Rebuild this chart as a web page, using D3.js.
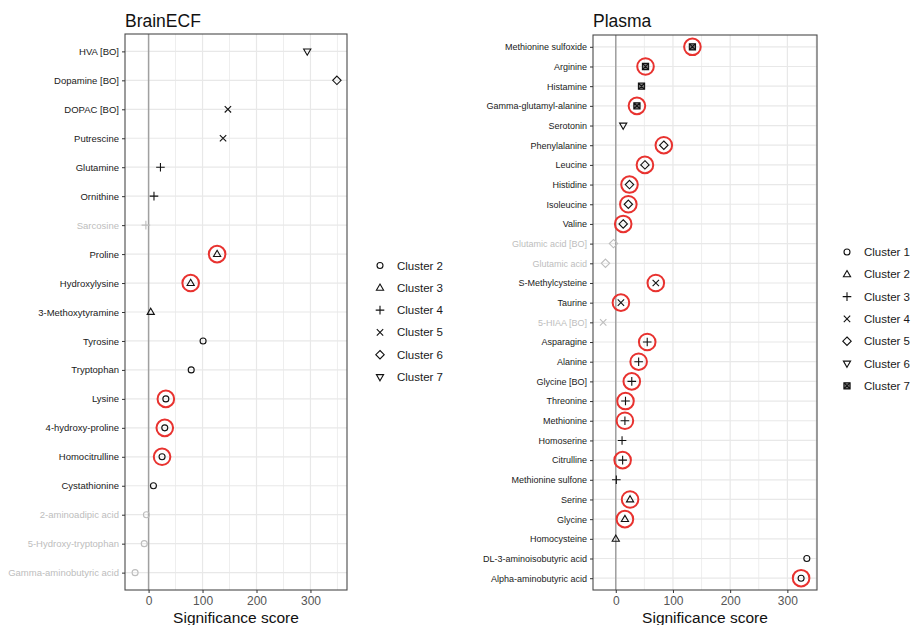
<!DOCTYPE html>
<html>
<head>
<meta charset="utf-8">
<script src="https://cdn.jsdelivr.net/npm/d3@7"></script>
<style>
  body { margin: 0; background: #fff; font-family: "Liberation Sans", Arial, sans-serif; }
</style>
</head>
<body>
<div id="chart"></div>
<script>
// BrainECF panel data (top to bottom)
var brainNames = ["HVA [BO]", "Dopamine [BO]", "DOPAC [BO]", "Putrescine", "Glutamine", "Ornithine",
  "Sarcosine", "Proline", "Hydroxylysine", "3-Methoxytyramine", "Tyrosine", "Tryptophan", "Lysine",
  "4-hydroxy-proline", "Homocitrulline", "Cystathionine", "2-aminoadipic acid", "5-Hydroxy-tryptophan",
  "Gamma-aminobutyric acid"];
var brainScores = [294, 349, 147, 138, 22, 10, -5, 127, 78, 4, 101, 79, 32, 30, 25, 9, -4, -8, -25];
var brainClusters = [7, 6, 5, 5, 4, 4, 4, 3, 3, 3, 2, 2, 2, 2, 2, 2, 2, 2, 2];
var brainCircled = ["Proline", "Hydroxylysine", "Lysine", "4-hydroxy-proline", "Homocitrulline"];
var brainLegend = [2, 3, 4, 5, 6, 7];

// Plasma panel data (top to bottom)
var plasmaNames = ["Methionine sulfoxide", "Arginine", "Histamine", "Gamma-glutamyl-alanine", "Serotonin",
  "Phenylalanine", "Leucine", "Histidine", "Isoleucine", "Valine", "Glutamic acid [BO]", "Glutamic acid",
  "S-Methylcysteine", "Taurine", "5-HIAA [BO]", "Asparagine", "Alanine", "Glycine [BO]", "Threonine",
  "Methionine", "Homoserine", "Citrulline", "Methionine sulfone", "Serine", "Glycine", "Homocysteine",
  "DL-3-aminoisobutyric acid", "Alpha-aminobutyric acid"];
var plasmaScores = [134, 52, 45, 37, 13, 84, 51, 24, 22, 13, -4, -18, 70, 9, -22, 55, 40, 28, 17, 16,
  11, 12, 1, 25, 16, 0, 334, 324];
var plasmaClusters = [7, 7, 7, 7, 6, 5, 5, 5, 5, 5, 5, 5, 4, 4, 4, 3, 3, 3, 3, 3, 3, 3, 3, 2, 2, 2, 1, 1];
var plasmaCircled = ["Methionine sulfoxide", "Arginine", "Gamma-glutamyl-alanine", "Phenylalanine", "Leucine",
  "Histidine", "Isoleucine", "Valine", "S-Methylcysteine", "Taurine", "Asparagine", "Alanine", "Glycine [BO]",
  "Threonine", "Methionine", "Citrulline", "Serine", "Glycine", "Alpha-aminobutyric acid"];
var plasmaLegend = [1, 2, 3, 4, 5, 6, 7];

var xTicks = [0, 100, 200, 300];
var xMinor = [-50, 50, 150, 250, 350];

var svg = d3.select("#chart").append("svg")
  .attr("width", 912)
  .attr("height", 625);

// ggplot-like open shapes, by position in the legend
function shapePath(i) {
  var p = d3.path();
  if (i === 0) {
    p.arc(0, 0, 3, 0, 2 * Math.PI);
  } else if (i === 1) {
    p.moveTo(0, -3.8); p.lineTo(3.6, 2.4); p.lineTo(-3.6, 2.4); p.closePath();
  } else if (i === 2) {
    p.moveTo(-4.3, 0); p.lineTo(4.3, 0); p.moveTo(0, -4.3); p.lineTo(0, 4.3);
  } else if (i === 3) {
    p.moveTo(-3.2, -3.2); p.lineTo(3.2, 3.2); p.moveTo(-3.2, 3.2); p.lineTo(3.2, -3.2);
  } else if (i === 4) {
    p.moveTo(0, -4.2); p.lineTo(4.2, 0); p.lineTo(0, 4.2); p.lineTo(-4.2, 0); p.closePath();
  } else if (i === 5) {
    p.moveTo(0, 3.8); p.lineTo(3.6, -2.4); p.lineTo(-3.6, -2.4); p.closePath();
  } else {
    p.rect(-3.1, -3.1, 6.2, 6.2);
    p.moveTo(-3.1, -3.1); p.lineTo(3.1, 3.1); p.moveTo(-3.1, 3.1); p.lineTo(3.1, -3.1);
  }
  return p.toString();
}

function drawPanel(cfg) {
  var g = svg.append("g");
  var ext = d3.extent(cfg.scores);
  var pad = (ext[1] - ext[0]) * 0.05;
  var x = d3.scaleLinear().domain([ext[0] - pad, ext[1] + pad]).range([cfg.left, cfg.right]);
  var y = d3.scalePoint().domain(cfg.names).range([cfg.top, cfg.bottom]).padding(0.6);
  var dom = x.domain();

  // grid
  g.selectAll(".minor").data(xMinor.filter(d => d >= dom[0] && d <= dom[1])).enter().append("line")
    .attr("x1", d => x(d)).attr("x2", d => x(d))
    .attr("y1", cfg.top).attr("y2", cfg.bottom)
    .attr("stroke", "#eeeeee").attr("stroke-width", 1);
  g.selectAll(".major").data(xTicks).enter().append("line")
    .attr("x1", d => x(d)).attr("x2", d => x(d))
    .attr("y1", cfg.top).attr("y2", cfg.bottom)
    .attr("stroke", "#e8e8e8").attr("stroke-width", 1.2);
  g.selectAll(".hgrid").data(cfg.names).enter().append("line")
    .attr("x1", cfg.left).attr("x2", cfg.right)
    .attr("y1", d => y(d)).attr("y2", d => y(d))
    .attr("stroke", "#e8e8e8").attr("stroke-width", 1.2);

  // zero line
  g.append("line")
    .attr("x1", x(0)).attr("x2", x(0))
    .attr("y1", cfg.top).attr("y2", cfg.bottom)
    .attr("stroke", "#a0a0a0").attr("stroke-width", 1.5);

  // border
  g.append("rect")
    .attr("x", cfg.left).attr("y", cfg.top)
    .attr("width", cfg.right - cfg.left).attr("height", cfg.bottom - cfg.top)
    .attr("fill", "none").attr("stroke", "#4a4a4a").attr("stroke-width", 1.1);

  // y axis
  var yAxis = g.append("g")
    .attr("transform", `translate(${cfg.left},0)`)
    .call(d3.axisLeft(y).tickSize(3).tickPadding(3));
  yAxis.select(".domain").remove();
  yAxis.selectAll(".tick line").attr("stroke", "#333");
  yAxis.selectAll(".tick text")
    .attr("font-family", "Liberation Sans, Arial, sans-serif")
    .attr("font-size", cfg.labelSize)
    .attr("fill", (d, i) => cfg.scores[i] < 0 ? "#bdbdbd" : "#1a1a1a");

  // x axis
  var xAxis = g.append("g")
    .attr("transform", `translate(0,${cfg.bottom})`)
    .call(d3.axisBottom(x).tickValues(xTicks).tickSize(3).tickPadding(3));
  xAxis.select(".domain").remove();
  xAxis.selectAll(".tick line").attr("stroke", "#333");
  xAxis.selectAll(".tick text")
    .attr("font-family", "Liberation Sans, Arial, sans-serif")
    .attr("font-size", 12)
    .attr("fill", "#555");

  g.append("text")
    .attr("x", (cfg.left + cfg.right) / 2)
    .attr("y", 623)
    .attr("text-anchor", "middle")
    .attr("font-size", 15.5)
    .attr("fill", "#111")
    .text("Significance score");

  g.append("text")
    .attr("x", cfg.left)
    .attr("y", 27)
    .attr("font-size", 17.5)
    .attr("fill", "#111")
    .text(cfg.title);

  // points
  var rows = cfg.names.map((n, i) => ({ name: n, score: cfg.scores[i], cluster: cfg.clusters[i] }));
  g.selectAll(".pt").data(rows).enter().append("path")
    .attr("transform", d => `translate(${x(d.score)},${y(d.name)})`)
    .attr("d", d => shapePath(cfg.legend.indexOf(d.cluster)))
    .attr("fill", d => cfg.legend.indexOf(d.cluster) === 6 ? "#777" : "none")
    .attr("stroke", d => d.score < 0 ? "#bdbdbd" : "#111")
    .attr("stroke-width", 1.1);

  // red highlight rings
  g.selectAll(".ring").data(rows.filter(d => cfg.circled.indexOf(d.name) >= 0)).enter().append("circle")
    .attr("cx", d => x(d.score))
    .attr("cy", d => y(d.name))
    .attr("r", 8.3)
    .attr("fill", "none")
    .attr("stroke", "#e8322f")
    .attr("stroke-width", 2);

  // legend
  var lg = g.selectAll(".leg").data(cfg.legend).enter().append("g")
    .attr("transform", (d, i) => `translate(${cfg.legX},${cfg.legY + i * 22.3})`);
  lg.append("path")
    .attr("d", (d, i) => shapePath(i))
    .attr("fill", (d, i) => i === 6 ? "#777" : "none")
    .attr("stroke", "#111")
    .attr("stroke-width", 1.1);
  lg.append("text")
    .attr("x", 17)
    .attr("dy", "0.35em")
    .attr("font-size", 11.5)
    .attr("fill", "#1a1a1a")
    .text(d => "Cluster " + d);
}

drawPanel({
  title: "BrainECF", names: brainNames, scores: brainScores, clusters: brainClusters,
  circled: brainCircled, legend: brainLegend,
  left: 125, right: 347, top: 34, bottom: 590, labelSize: 9.5,
  legX: 380, legY: 265.5
});

drawPanel({
  title: "Plasma", names: plasmaNames, scores: plasmaScores, clusters: plasmaClusters,
  circled: plasmaCircled, legend: plasmaLegend,
  left: 593, right: 817, top: 35, bottom: 590, labelSize: 9,
  legX: 847, legY: 252
});
</script>
</body>
</html>
